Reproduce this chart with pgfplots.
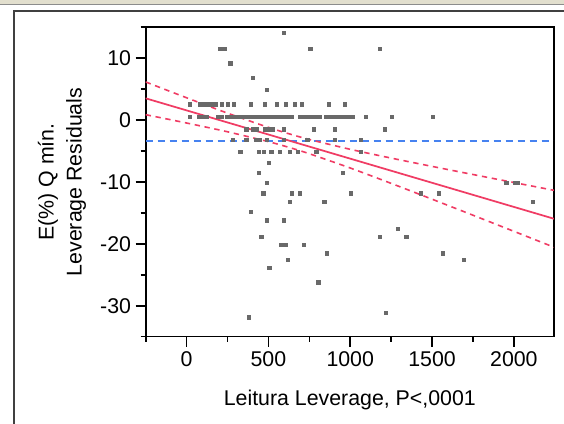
\documentclass[border=0pt]{standalone}
\usepackage{pgfplots}
\pgfplotsset{compat=1.18}
\usepackage{fontspec}
\setmainfont{Liberation Sans}
\definecolor{ptgray}{RGB}{105,105,105}
\definecolor{fitred}{RGB}{240,60,100}
\definecolor{meanblue}{RGB}{70,130,240}
\definecolor{chrome}{RGB}{226,223,206}
\begin{document}
\begin{tikzpicture}
\path[use as bounding box] (0,0) rectangle (423pt,318pt);
\fill[white] (0,0) rectangle (423pt,318pt);
\fill[chrome] (0,314.25pt) rectangle (423pt,318pt);
\draw[black!45, line width=0.75pt] (0,314.25pt) -- (423pt,314.25pt);
\draw[black!75, line width=1.5pt] (10.5pt,-2pt) -- (10.5pt,310.1pt) -- (425pt,310.1pt);
\begin{axis}[
 at={(109.28pt,65.48pt)}, anchor=south west,
 scale only axis, width=306.2pt, height=232.05pt,
 xmin=-250, xmax=2245, ymin=-35, ymax=15,
 xtick={0,500,1000,1500,2000}, minor xtick={-250,250,750,1250,1750},
 ytick={-30,-20,-10,0,10}, minor ytick={-35,-25,-15,-5,5,15},
 tick align=outside, tick pos=left,
 major tick length=7.5pt, minor tick length=3.75pt,
 axis line style={line width=1.2pt},
 every tick/.style={black, line width=1.2pt},
 font=\fontsize{16}{21}\selectfont,
 /pgf/number format/assume math mode=true,
 /pgf/number format/1000 sep={},
 xlabel={Leitura Leverage, P<,0001},
 ylabel={E(\%) Q mín.\\Leverage Residuals},
 ylabel style={align=center, at={(axis description cs:-0.205,0.5)}, anchor=center},
 xlabel style={at={(axis description cs:0.5,-0.203)}, anchor=center},
 clip=true,
]
\addplot[only marks, mark=square*, mark size=1.25pt, ptgray] coordinates {
(593,14.16)
(205,11.51)(230,11.51)(756,11.51)(1179,11.51)
(267,9.19)
(405,6.86)
(491,4.86)
(18,2.55)(80,2.55)(105,2.55)(130,2.55)(155,2.55)(180,2.55)(215,2.55)(250,2.55)(287,2.55)(393,2.55)(478,2.55)(550,2.55)(605,2.55)(662,2.55)(704,2.55)(869,2.55)(967,2.55)
(18,0.54)(75,0.54)(100,0.54)(125,0.54)(190,0.54)(212,0.54)(245,0.54)(270,0.54)(295,0.54)(320,0.54)(345,0.54)(370,0.54)(395,0.54)(420,0.54)(445,0.54)(470,0.54)(495,0.54)(520,0.54)(545,0.54)(570,0.54)(595,0.54)(620,0.54)(640,0.54)(690,0.54)(715,0.54)(740,0.54)(765,0.54)(790,0.54)(815,0.54)(850,0.54)(878,0.54)(905,0.54)(930,0.54)(955,0.54)(980,0.54)(995,0.54)(1016,0.54)(1093,0.54)(1255,0.54)(1505,0.54)
(365,-1.46)(405,-1.46)(429,-1.46)(480,-1.46)(505,-1.46)(527,-1.46)(593,-1.46)(778,-1.46)(906,-1.46)(1210,-1.46)
(283,-3.13)(365,-3.13)(425,-3.13)(446,-3.13)(491,-3.13)(593,-3.13)(738,-3.13)(906,-3.13)(1066,-3.13)
(328,-5.14)(440,-5.14)(470,-5.14)(517,-5.14)(568,-5.14)(629,-5.14)(680,-5.14)(792,-5.14)(1066,-5.14)
(503,-6.86)
(442,-8.51)(955,-8.51)
(491,-10.17)(1953,-10.17)(2005,-10.17)(2020,-10.17)
(469,-11.84)(643,-11.84)(692,-11.84)(1004,-11.84)(1429,-11.84)(1541,-11.84)
(631,-13.17)(841,-13.17)(2115,-13.17)
(393,-14.80)
(491,-16.17)(593,-16.17)
(1291,-17.51)
(456,-18.86)(1179,-18.86)(1342,-18.86)
(578,-20.16)(605,-20.16)(717,-20.16)
(855,-21.52)(1566,-21.52)
(617,-22.54)(1692,-22.54)
(505,-23.84)
(805,-26.22)
(1216,-31.18)
(381,-31.86)
};
\addplot[meanblue, line width=1.5pt, dash pattern=on 5.5pt off 3.5pt] coordinates {(-250,-3.3)(2245,-3.3)};
\addplot[fitred, line width=1.3pt] coordinates {(-250,3.52)(2245,-15.94)};
\addplot[fitred, line width=1.2pt, dash pattern=on 4pt off 3.5pt, smooth] coordinates {
(-250,6.165)(0,3.61)(250,1.127)(500,-1.178)(624,-2.197)(750,-3.127)(1000,-4.72)(1250,-6.136)(1500,-7.48)(1750,-8.792)(2000,-10.086)(2245,-11.345)};
\addplot[fitred, line width=1.2pt, dash pattern=on 4pt off 3.5pt, smooth] coordinates {
(-250,0.875)(0,-0.47)(250,-1.887)(500,-3.482)(624,-4.397)(750,-5.433)(1000,-7.74)(1250,-10.224)(1500,-12.78)(1750,-15.368)(2000,-17.974)(2245,-20.535)};
\end{axis}
\end{tikzpicture}
\end{document}
